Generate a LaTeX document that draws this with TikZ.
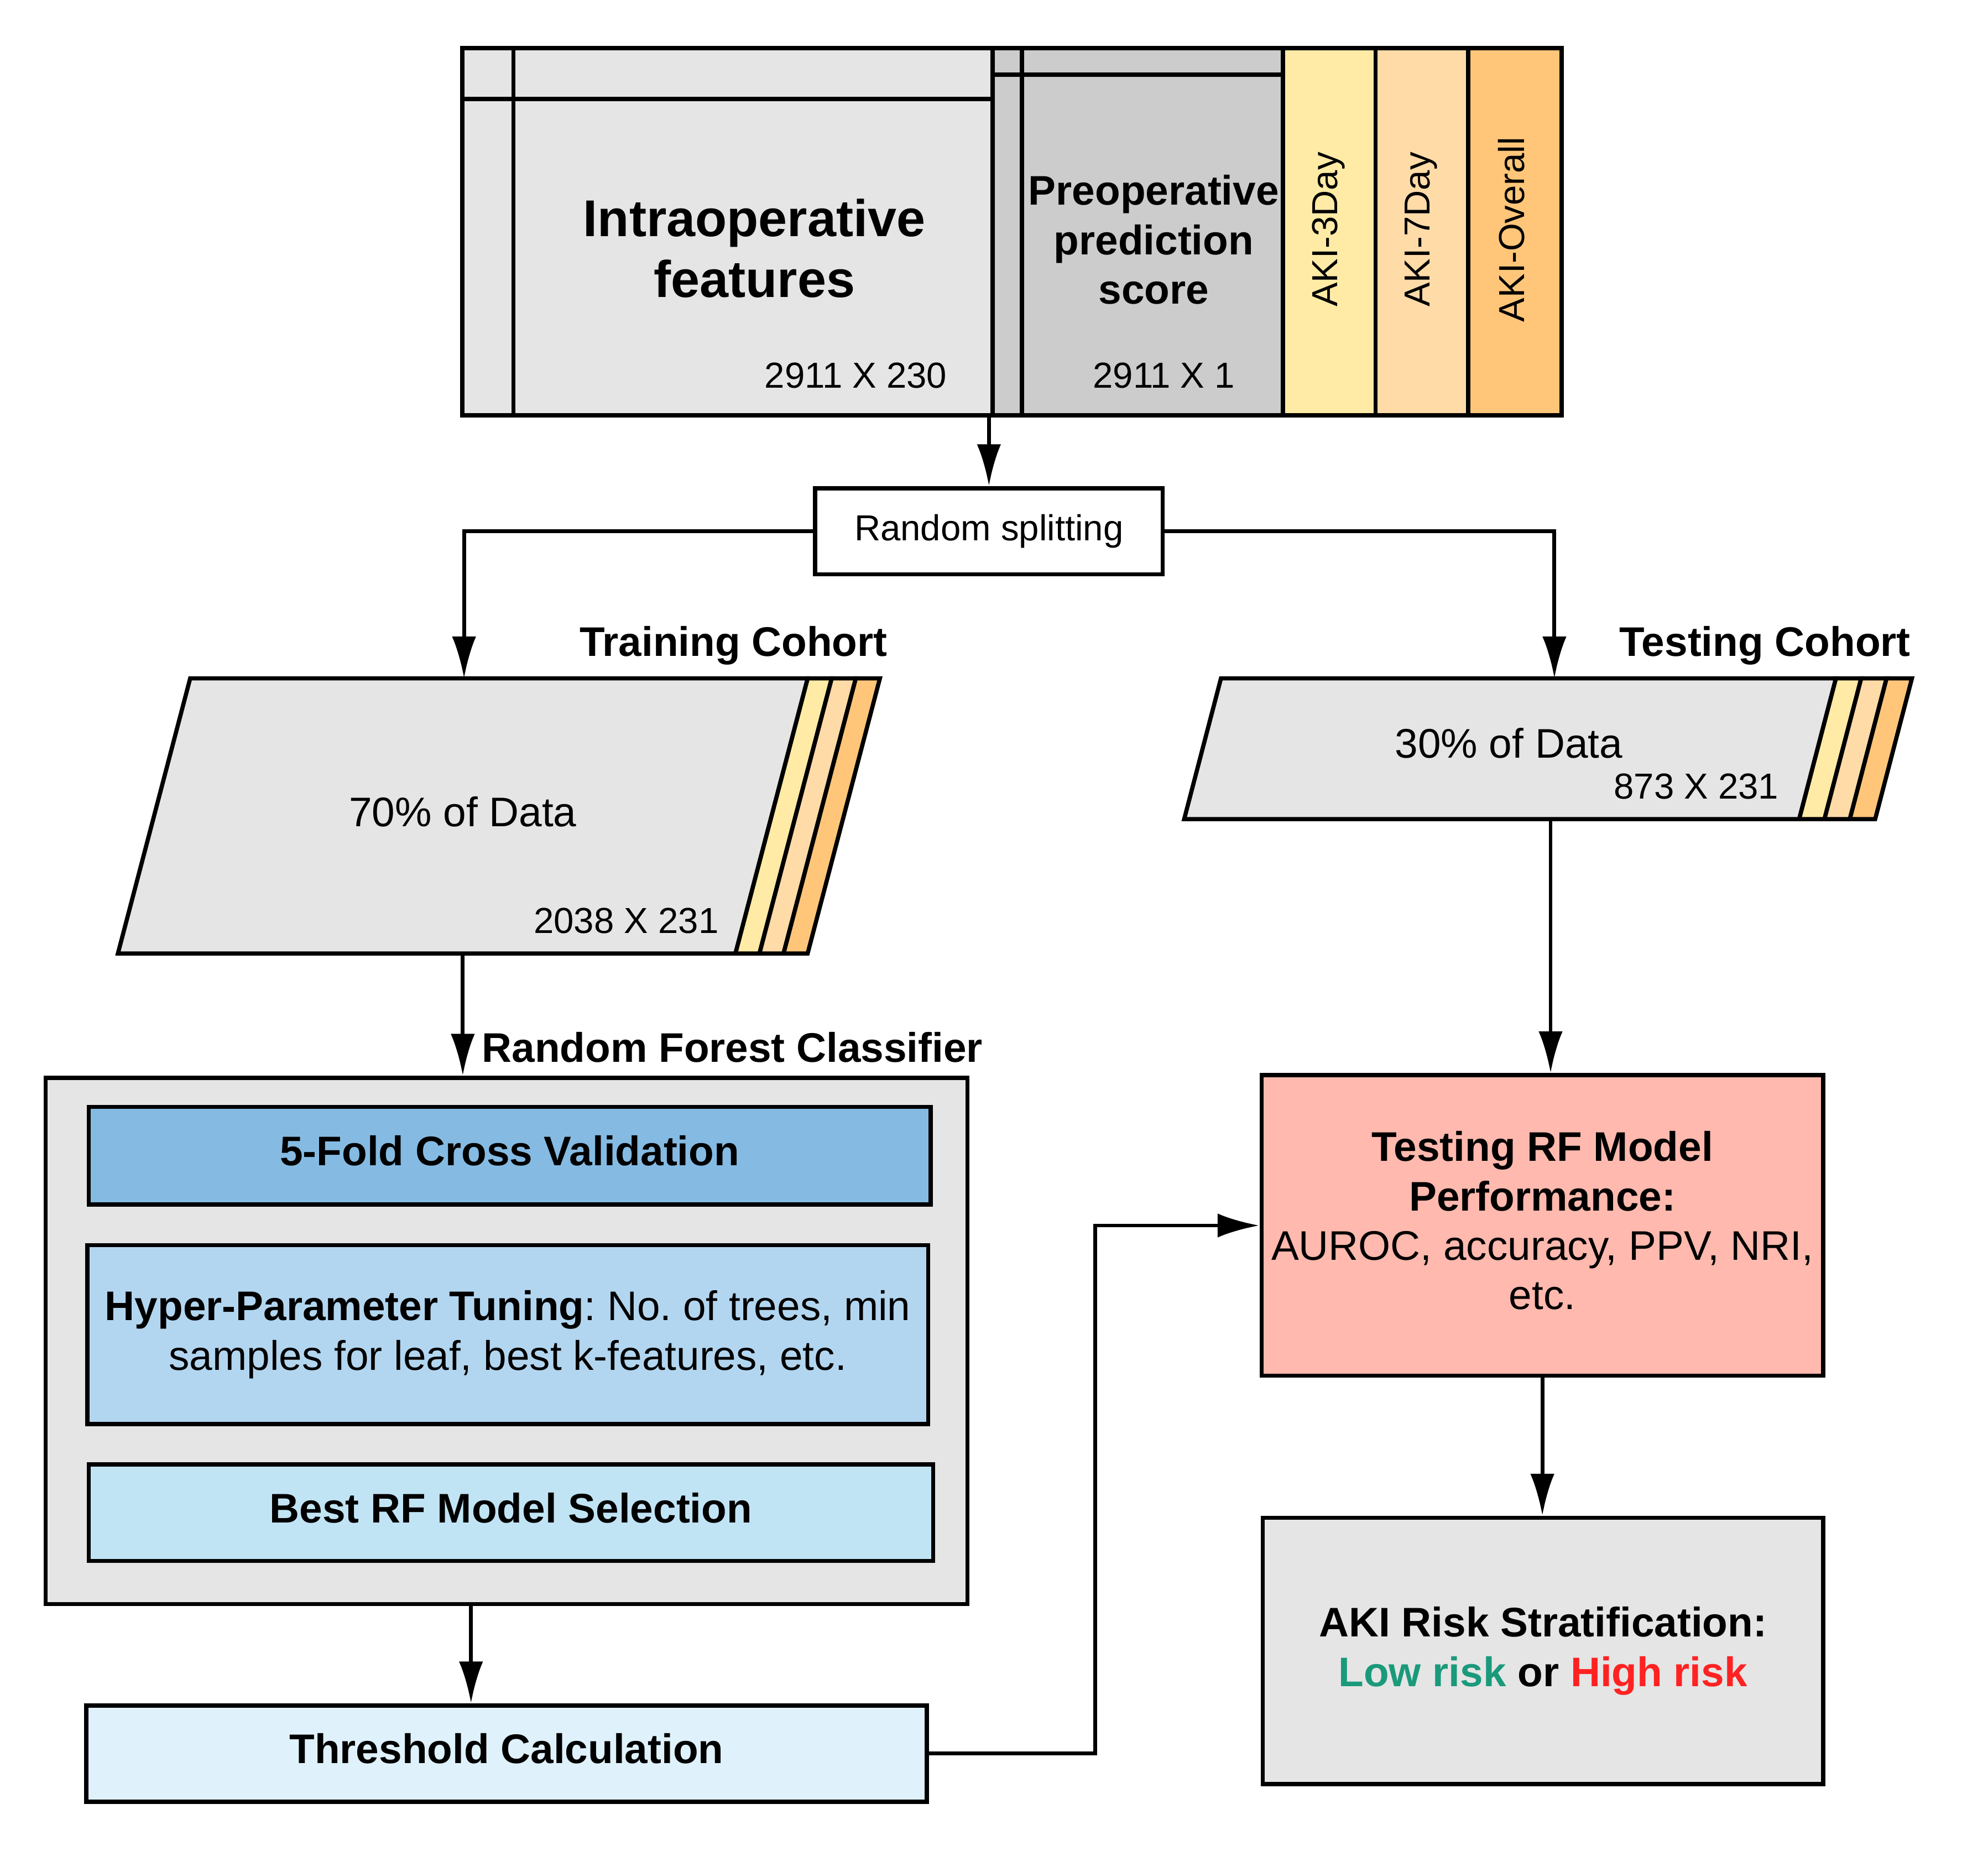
\documentclass[tikz,border=0pt]{standalone}
\usepackage{fontspec}
\setmainfont{Liberation Sans}
\usepackage{tikz}
\usetikzlibrary{arrows.meta}
\usetikzlibrary{calc}
\frenchspacing
\tikzset{>={Latex[length=33pt,width=19pt]}}
\definecolor{gray1}{HTML}{E5E5E5}
\definecolor{gray2}{HTML}{CCCCCC}
\definecolor{aki1}{HTML}{FFEBA6}
\definecolor{aki2}{HTML}{FFDBA8}
\definecolor{aki3}{HTML}{FFC679}
\definecolor{blue1}{HTML}{85BBE3}
\definecolor{blue2}{HTML}{B3D6F0}
\definecolor{blue3}{HTML}{C1E4F5}
\definecolor{blue4}{HTML}{DFF1FB}
\definecolor{salmon}{HTML}{FFB9AE}
\definecolor{lowgreen}{HTML}{1A9A7B}
\definecolor{highred}{HTML}{FF2222}
\tikzset{box/.style = {draw, line width=3.3pt, inner sep=0pt, align=center, font=\fontsize{32.6}{39}\selectfont},
         bbox/.style = {box, text depth=8pt, font=\bfseries\fontsize{32.6}{39}\selectfont},
         arr/.style = {->, line width=3pt},
         lbl/.style = {inner sep=0pt, font=\bfseries\fontsize{32.6}{39}\selectfont},
         dim/.style = {inner sep=0pt, font=\fontsize{28.5}{34}\selectfont}}

\begin{document}
\begin{tikzpicture}[x=1pt,y=-1pt]
                \useasboundingbox (0,0) rectangle (1568,1459.5);

                % input table
                \fill[gray1] (363,36) rectangle (783,326);
                \fill[gray2] (783,36) rectangle (1012,326);
                \fill[aki1] (1012,36) rectangle (1085,326);
                \fill[aki2] (1085,36) rectangle (1158,326);
                \fill[aki3] (1158,36) rectangle (1230,326);
                \draw[line width=3.3pt] (363,78) -- (783,78) (783,59) -- (1012,59);
                \foreach \x in {405,783,806,1012,1085,1158}
                    \draw[line width=3.3pt] (\x,36) -- (\x,326);
                \node[draw, line width=3.5pt, inner sep=0pt, minimum width=867pt, minimum height=290pt, anchor=north west] (data) at (363,36) {};

                \node[align=center, font=\bfseries\fontsize{40.8}{48}\selectfont] (intra) at (595,196) {Intraoperative\\features};
                \node[dim] (intradim) at (675,296) {2911 X 230};
                \node[lbl, align=center] (pre) at (910,189) {Preoperative\\prediction\\score};
                \node[dim] (predim) at (918,296) {2911 X 1};
                \node[dim, rotate=90] (aki3day) at (1048,181) {AKI-3Day};
                \node[dim, rotate=90] (aki7day) at (1121,181) {AKI-7Day};
                \node[dim, rotate=90] (akiall) at (1192,181) {AKI-Overall};

                \node[box, minimum width=274pt, minimum height=68pt, font=\fontsize{28.5}{34}\selectfont] (split) at (780,419) {Random splitting};
                \draw[arr] (split.north |- data.south) -- (split.north);

                % training cohort
                \coordinate (trainN) at (366,535);
                \coordinate (trainS) at (365,752);
                \foreach \c [count=\i from 0] in {aki1,aki2,aki3}
                    \draw[line width=3.3pt, fill=\c] ({637+19*\i},535) -- ({656+19*\i},535) -- ({599+19*\i},752) -- ({580+19*\i},752) -- cycle;
                \draw[line width=3.3pt, fill=gray1] (150,535) -- (637,535) -- (580,752) -- (93,752) -- cycle;
                \node[font=\fontsize{32.6}{39}\selectfont] (train) at (365,640) {70\% of Data};
                \node[dim, anchor=east] (traindim) at (567,726) {2038 X 231};
                \node[lbl, anchor=east] (trainlbl) at (700,509) {Training Cohort};

                % testing cohort
                \coordinate (testN) at (1226,535);
                \coordinate (testS) at (1223,646);
                \foreach \c [count=\i from 0] in {aki1,aki2,aki3}
                    \draw[line width=3.3pt, fill=\c] ({1448+20*\i},535) -- ({1468+20*\i},535) -- ({1439+20*\i},646) -- ({1419+20*\i},646) -- cycle;
                \draw[line width=3.3pt, fill=gray1] (963,535) -- (1448,535) -- (1419,646) -- (934,646) -- cycle;
                \node[font=\fontsize{32.6}{39}\selectfont] (test) at (1190,586) {30\% of Data};
                \node[dim, anchor=east] (testdim) at (1403,620) {873 X 231};
                \node[lbl, anchor=east] (testlbl) at (1507,509) {Testing Cohort};

                \draw[arr] (split.west) -| (trainN);
                \draw[arr] (split.east) -| (testN);

                % random forest
                \node[box, fill=gray1, minimum width=727pt, minimum height=415pt] (rf) at (399.5,1057.5) {};
                \node[lbl, anchor=west] (rflbl) at (380,826) {Random Forest Classifier};
                \node[bbox, fill=blue1, minimum width=664pt, minimum height=77pt] (cv) at (402,911.5) {5-Fold Cross Validation};
                \node[box, fill=blue2, minimum width=663pt, minimum height=141pt] (hp) at (400.5,1052.5) {\textbf{Hyper-Parameter Tuning}: No. of trees, min\\samples for leaf, best k-features, etc.};
                \node[bbox, fill=blue3, minimum width=666pt, minimum height=76pt] (best) at (403,1193) {Best RF Model Selection};
                \node[bbox, fill=blue4, minimum width=663pt, minimum height=76pt] (thr) at (399.5,1383) {Threshold Calculation};

                \node[box, fill=salmon, text depth=8pt, minimum width=443pt, minimum height=237pt] (perf) at (1216.5,966.5) {\textbf{Testing RF Model}\\\textbf{Performance:}\\AUROC, accuracy, PPV, NRI,\\etc.};
                \node[box, fill=gray1, minimum width=442pt, minimum height=210pt] (risk) at (1217,1302) {\textbf{AKI Risk Stratification:}\\\textbf{\textcolor{lowgreen}{Low risk} or \textcolor{highred}{High risk}}};

                \draw[arr] (trainS) -- (trainS |- rf.north);
                \draw[arr] ([xshift=-28pt]rf.south) -- ([xshift=-28pt]rf.south |- thr.north);
                \draw[arr] (thr.east) -- ++(131,0) |- (perf.west);
                \draw[arr] (testS) -- (testS |- perf.north);
                \draw[arr] (perf.south) -- (perf.south |- risk.north);
            \end{tikzpicture}
\end{document}
